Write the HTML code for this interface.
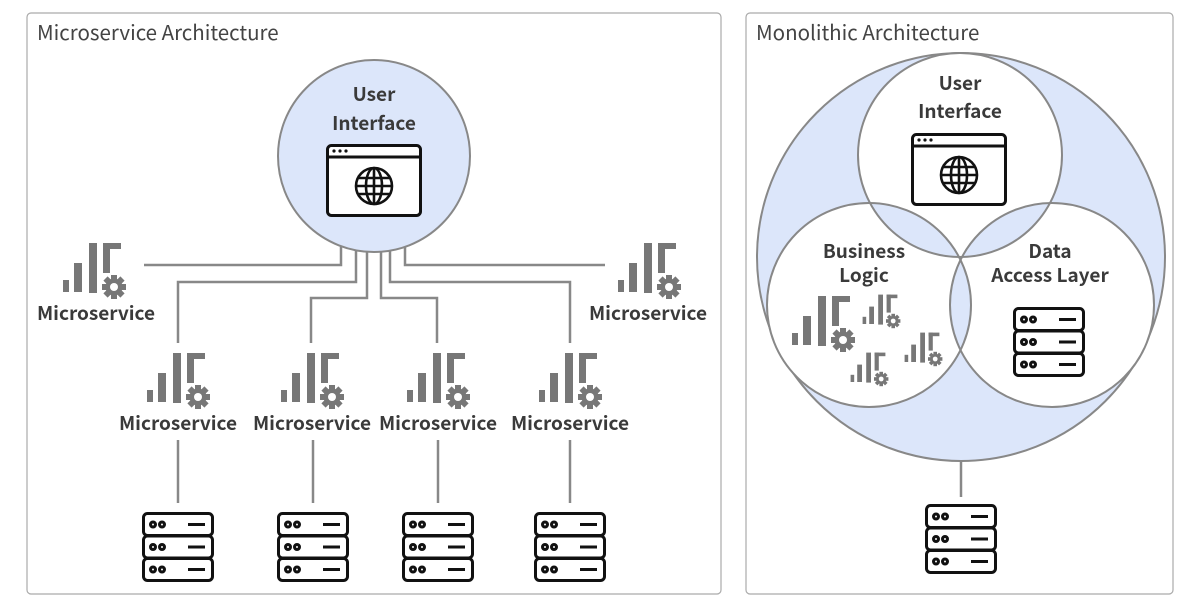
<!DOCTYPE html>
<html><head><meta charset="utf-8"><style>
html,body{margin:0;padding:0;background:#fff;width:1200px;height:608px;overflow:hidden}
text{font-family:"Noto Sans CJK SC","Liberation Sans",sans-serif}
.t{font-size:20.5px;fill:#444}
.l{font-size:19px;font-weight:600;fill:#3a3a3a;text-anchor:middle}
.c{fill:none;stroke:#888;stroke-width:2.5}
</style></head><body>
<svg width="1200" height="608" viewBox="0 0 1200 608" xmlns="http://www.w3.org/2000/svg">
<defs>
<g id="ms">
<rect x="1" y="38" width="6" height="12" fill="#777"/>
<rect x="12" y="21" width="8" height="29" fill="#777"/>
<rect x="27" y="1" width="8" height="50" fill="#777"/>
<rect x="41" y="1" width="7" height="30" fill="#777"/>
<rect x="41" y="1" width="18" height="6" fill="#777"/>
<g transform="translate(52,45)">
<circle r="8.5" fill="#777"/>
<g fill="#777">
<rect x="-3" y="-12" width="6" height="24"/>
<rect x="-3" y="-12" width="6" height="24" transform="rotate(45)"/>
<rect x="-3" y="-12" width="6" height="24" transform="rotate(90)"/>
<rect x="-3" y="-12" width="6" height="24" transform="rotate(135)"/>
</g>
<circle r="4" fill="#fff"/>
</g>
</g>
<g id="srv" fill="none" stroke="#111" stroke-width="3">
<rect x="1.5" y="1.5" width="69" height="22" rx="4"/>
<rect x="1.5" y="24" width="69" height="22" rx="4"/>
<rect x="1.5" y="46.5" width="69" height="22" rx="4"/>
<circle cx="11" cy="12.5" r="2.5"/><circle cx="20" cy="12.5" r="2.5"/>
<circle cx="11" cy="35" r="2.5"/><circle cx="20" cy="35" r="2.5"/>
<circle cx="11" cy="57.5" r="2.5"/><circle cx="20" cy="57.5" r="2.5"/>
<line x1="46" y1="12.5" x2="63" y2="12.5"/>
<line x1="46" y1="35" x2="63" y2="35"/>
<line x1="46" y1="57.5" x2="63" y2="57.5"/>
</g>
<g id="br">
<rect x="1.5" y="1.5" width="93" height="70" rx="4" fill="#fff" stroke="#111" stroke-width="3"/>
<line x1="1.5" y1="13" x2="94.5" y2="13" stroke="#111" stroke-width="3"/>
<circle cx="8" cy="7" r="1.6" fill="#111"/><circle cx="14" cy="7" r="1.6" fill="#111"/><circle cx="20" cy="7" r="1.6" fill="#111"/>
<g transform="translate(48,42)" fill="none" stroke="#111" stroke-width="2.6">
<circle r="18"/>
<ellipse rx="8" ry="18"/>
<line x1="0" y1="-18" x2="0" y2="18"/>
<line x1="-18" y1="0" x2="18" y2="0"/>
<line x1="-16" y1="-8" x2="16" y2="-8"/>
<line x1="-16" y1="8" x2="16" y2="8"/>
</g>
</g>
<clipPath id="cT"><circle cx="960" cy="155" r="102"/></clipPath>
<clipPath id="cL"><circle cx="869" cy="305" r="102"/></clipPath>
</defs>

<!-- left panel -->
<rect x="27" y="13" width="694" height="581" rx="4" fill="#fff" stroke="#aaa" stroke-width="1.2"/>
<text x="37" y="40" class="t">Microservice Architecture</text>

<g class="c">
<polyline points="144,265 341,265 341,245"/>
<polyline points="178,343 178,282 356,282 356,245"/>
<polyline points="311,343 311,298 367,298 367,245"/>
<polyline points="437,343 437,298 381,298 381,245"/>
<polyline points="570,343 570,282 390,282 390,245"/>
<polyline points="605,265 405,265 405,245"/>
<line x1="178" y1="440" x2="178" y2="503"/>
<line x1="313" y1="440" x2="313" y2="503"/>
<line x1="438" y1="440" x2="438" y2="503"/>
<line x1="570" y1="440" x2="570" y2="503"/>
</g>
<circle cx="374" cy="156" r="96" fill="#dce6fa" stroke="#888" stroke-width="2"/>
<text x="374" y="101" class="l">User</text>
<text x="374" y="130" class="l">Interface</text>
<use href="#br" x="326" y="144"/>

<use href="#ms" x="62" y="242"/>
<text x="96" y="320" class="l">Microservice</text>
<use href="#ms" x="617" y="242"/>
<text x="648" y="320" class="l">Microservice</text>
<use href="#ms" x="146" y="352"/>
<text x="178" y="430" class="l">Microservice</text>
<use href="#ms" x="280" y="352"/>
<text x="312" y="430" class="l">Microservice</text>
<use href="#ms" x="406" y="352"/>
<text x="438" y="430" class="l">Microservice</text>
<use href="#ms" x="538" y="352"/>
<text x="570" y="430" class="l">Microservice</text>

<use href="#srv" x="142" y="512"/>
<use href="#srv" x="277" y="512"/>
<use href="#srv" x="402" y="512"/>
<use href="#srv" x="534" y="512"/>

<!-- right panel -->
<rect x="746" y="13" width="427" height="581" rx="4" fill="#fff" stroke="#aaa" stroke-width="1.2"/>
<text x="756" y="40" class="t">Monolithic Architecture</text>
<line x1="961" y1="460" x2="961" y2="497" stroke="#888" stroke-width="2.5"/>
<circle cx="961" cy="257" r="204" fill="#dce6fa" stroke="#888" stroke-width="2"/>
<circle cx="960" cy="155" r="102" fill="#fff"/>
<circle cx="869" cy="305" r="102" fill="#fff"/>
<circle cx="1052" cy="305" r="102" fill="#fff"/>
<g fill="#dce6fa">
<circle cx="869" cy="305" r="102" clip-path="url(#cT)"/>
<circle cx="1052" cy="305" r="102" clip-path="url(#cT)"/>
<circle cx="1052" cy="305" r="102" clip-path="url(#cL)"/>
</g>
<g fill="none" stroke="#888" stroke-width="2">
<circle cx="960" cy="155" r="102"/>
<circle cx="869" cy="305" r="102"/>
<circle cx="1052" cy="305" r="102"/>
</g>
<text x="960" y="90" class="l">User</text>
<text x="960" y="118" class="l">Interface</text>
<use href="#br" x="911" y="133"/>
<text x="864" y="258" class="l">Business</text>
<text x="864" y="282" class="l">Logic</text>
<text x="1050" y="258" class="l">Data</text>
<text x="1050" y="282" class="l">Access Layer</text>
<use href="#ms" transform="translate(791,295)"/>
<use href="#ms" transform="translate(862,294) scale(0.6)"/>
<use href="#ms" transform="translate(904,332) scale(0.6)"/>
<use href="#ms" transform="translate(850,352) scale(0.6)"/>
<use href="#srv" x="1013" y="307"/>
<use href="#srv" x="925" y="504"/>
</svg>
</body></html>
